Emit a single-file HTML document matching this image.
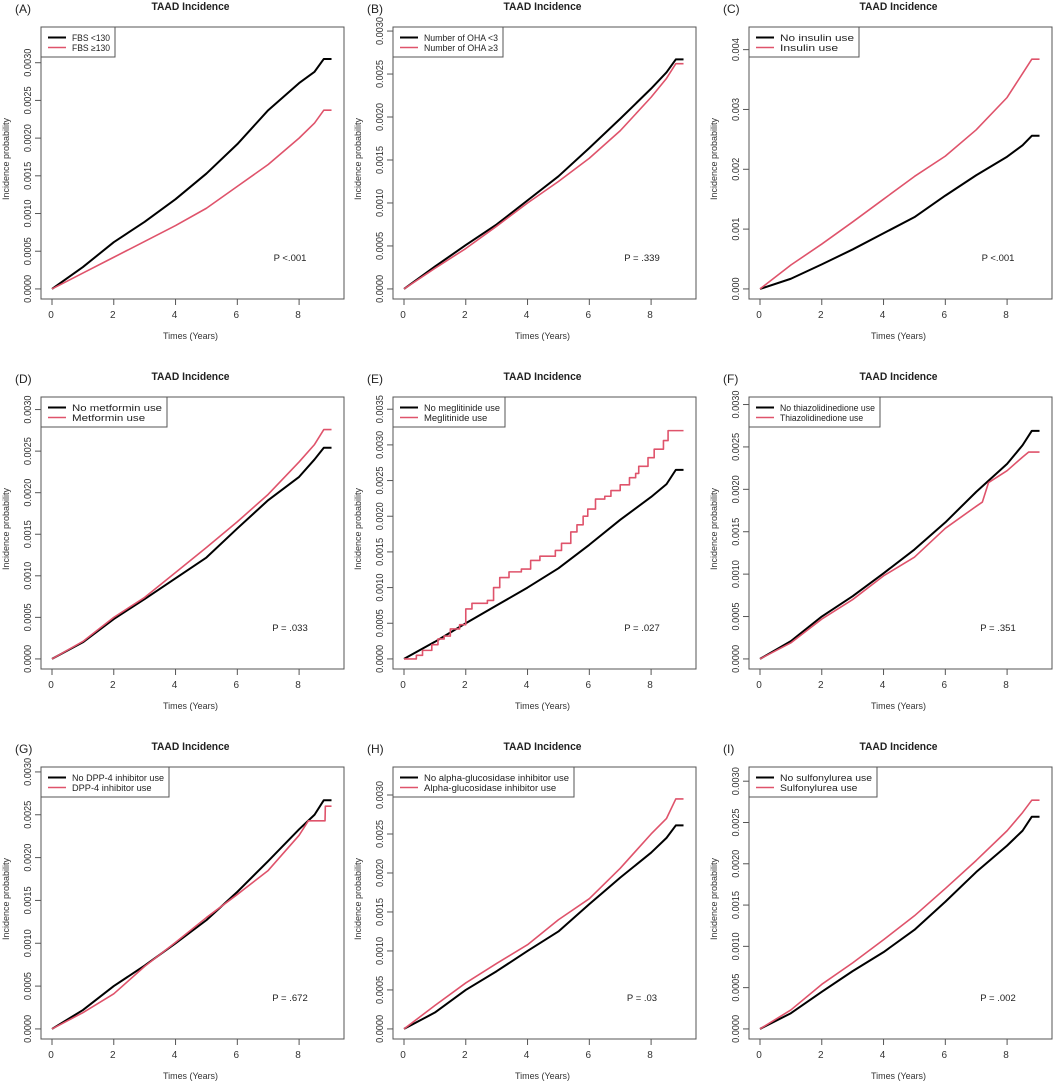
<!DOCTYPE html>
<html><head><meta charset="utf-8"><style>
html,body{margin:0;padding:0;background:#fff;}
svg{display:block;font-family:"Liberation Sans",Arial,sans-serif;}
</style></head><body>
<svg id="fig" width="1055" height="1082" viewBox="0 0 1055 1082" xmlns="http://www.w3.org/2000/svg"></svg>
<script>
// ---- data ----
const T = [0,1,2,3,4,5,6,7,8,8.5,8.8,9.05];
const aBlack = [0,.00029,.00062,.00089,.00119,.00153,.00192,.00237,.00273,.00288,.00305,.00305];
const aRed   = [0,.00021,.00042,.00063,.00084,.00107,.00136,.00165,.00200,.00220,.00237,.00237];
const bBlack = [0,.00026,.00051,.00075,.00103,.00131,.00164,.00198,.00233,.00252,.00267,.00267];
const bRed   = [0,.00024,.00047,.00073,.00100,.00125,.00152,.00184,.00223,.00245,.00262,.00262];
const cBlack = [0,.00017,.00041,.00066,.00093,.00120,.00156,.00190,.00221,.00240,.00256,.00256];
const cRed   = [0,.00040,.00075,.00112,.00150,.00188,.00222,.00266,.00320,.00360,.00384,.00384];
const dBlack = [0,.00020,.00048,.00072,.00097,.00122,.00157,.00191,.00219,.00240,.00254,.00254];
const dRed   = [0,.00021,.00050,.00074,.00104,.00134,.00165,.00198,.00237,.00258,.00276,.00276];
const eBlack = [0,.00024,.00050,.00075,.00100,.00127,.00160,.00195,.00227,.00245,.00265,.00265];
const eRedT  = [0,0.4,0.6,0.9,1.1,1.3,1.5,1.8,2.0,2.2,2.7,2.9,3.1,3.4,3.8,4.1,4.4,4.9,5.1,5.4,5.6,5.8,5.95,6.2,6.5,6.7,7.0,7.3,7.5,7.6,7.9,8.1,8.4,8.55,9.05];
const eRedV  = [0,.00005,.00012,.0002,.00028,.00032,.00042,.00048,.0007,.00078,.00082,.001,.00114,.00122,.00126,.00138,.00144,.00152,.00162,.00178,.00188,.002,.0021,.00224,.00228,.00236,.00244,.00254,.0026,.0027,.00282,.00294,.00306,.0032,.0032];
const fBlack = [0,.00021,.00050,.00074,.00101,.00129,.00161,.00197,.00230,.00252,.00269,.00269];
const fRedT  = [0,1,2,3,4,5,6,7,7.2,7.4,8,8.5,8.7,9.05];
const fRedV  = [0,.00019,.00047,.00070,.00098,.00120,.00154,.00180,.00185,.00208,.00222,.00238,.00244,.00244];
const gBlack = [0,.00022,.00050,.00074,.00100,.00127,.00160,.00196,.00233,.00250,.00267,.00267];
const gRedT  = [0,1,2,3,4,5,6,7,8,8.3,8.84,8.85,9.05];
const gRedV  = [0,.00019,.00041,.00073,.00101,.00130,.00157,.00185,.00226,.00243,.00243,.00260,.00260];
const hBlack = [0,.00021,.00050,.00074,.00100,.00125,.00160,.00194,.00226,.00245,.00261,.00261];
const hRed   = [0,.00030,.00059,.00084,.00108,.00140,.00167,.00206,.00250,.00270,.00295,.00295];
const iBlack = [0,.00019,.00045,.00070,.00093,.00120,.00154,.00190,.00222,.00240,.00257,.00257];
const iRed   = [0,.00023,.00054,.00080,.00108,.00137,.00170,.00204,.00240,.00262,.00277,.00277];
const xTicks = [0,2,4,6,8];
const yMaxes = [0.00334,0.00293,0.00421,0.00303,0.00353,0.00297,0.00294,0.00323,0.00305];

const panels = [
 {id:'A',col:0,row:0,yst:.0005,dec:4,yTop:.0030,leg:['FBS <130','FBS \u2265130'],lw:74,p:'P <.001',bT:T,bV:aBlack,rT:T,rV:aRed},
 {id:'B',col:1,row:0,yst:.0005,dec:4,yTop:.0030,leg:['Number of OHA <3','Number of OHA \u22653'],lw:110,p:'P = .339',bT:T,bV:bBlack,rT:T,rV:bRed},
 {id:'C',col:2,row:0,yst:.001,dec:3,yTop:.004,leg:['No insulin use','Insulin use'],lw:110,p:'P <.001',bT:T,bV:cBlack,rT:T,rV:cRed},
 {id:'D',col:0,row:1,yst:.0005,dec:4,yTop:.0030,leg:['No metformin use','Metformin use'],lw:126,p:'P = .033',bT:T,bV:dBlack,rT:T,rV:dRed},
 {id:'E',col:1,row:1,yst:.0005,dec:4,yTop:.0035,leg:['No meglitinide use','Meglitinide use'],lw:112,p:'P = .027',bT:T,bV:eBlack,rT:eRedT,rV:eRedV,step:true},
 {id:'F',col:2,row:1,yst:.0005,dec:4,yTop:.0030,leg:['No thiazolidinedione use','Thiazolidinedione use'],lw:131,p:'P = .351',bT:T,bV:fBlack,rT:fRedT,rV:fRedV},
 {id:'G',col:0,row:2,yst:.0005,dec:4,yTop:.0030,leg:['No DPP-4 inhibitor use','DPP-4 inhibitor use'],lw:128,p:'P = .672',bT:T,bV:gBlack,rT:gRedT,rV:gRedV},
 {id:'H',col:1,row:2,yst:.0005,dec:4,yTop:.0030,leg:['No alpha-glucosidase inhibitor use','Alpha-glucosidase inhibitor use'],lw:181,p:'P = .03',bT:T,bV:hBlack,rT:T,rV:hRed},
 {id:'I',col:2,row:2,yst:.0005,dec:4,yTop:.0030,leg:['No sulfonylurea use','Sulfonylurea use'],lw:128,p:'P = .002',bT:T,bV:iBlack,rT:T,rV:iRed}
];
const colLeft=[41,393,749], rowTop=[27,397,767], W=303, H=272;
const RED='#DF536B';
const NS='http://www.w3.org/2000/svg';
const svg=document.getElementById('fig');
function mk(tag,attrs,parent,text){const e=document.createElementNS(NS,tag);for(const k in attrs)e.setAttribute(k,attrs[k]);if(text!==undefined)e.textContent=text;(parent||svg).appendChild(e);return e;}

panels.forEach((p,idx)=>{
  const L=colLeft[p.col], Tp=rowTop[p.row], B=Tp+H, ymax=yMaxes[idx];
  const xs=t=>L+(t+0.356)*(W/9.81);
  const ys=v=>B-(v+0.04*ymax)/(1.08*ymax)*H;
  const g=mk('g',{});
  
  
  const lab=mk('text',{x:L-26,y:Tp-14,'font-size':12,fill:'#222'},g,'('+p.id+')');
  
  
  const ti=mk('text',{x:L+W/2-2,y:Tp-17,'font-size':11,'font-weight':'bold','text-anchor':'middle',fill:'#222',textLength:78,lengthAdjust:'spacingAndGlyphs'},g,'TAAD Incidence');
  
  
  const box=mk('rect',{x:L,y:Tp,width:W,height:H,fill:'none',stroke:'#555','stroke-width':1},g);
  
  
  // x axis
  const xa=mk('g',{},g);
  
  
  mk('line',{x1:xs(xTicks[0]),x2:xs(xTicks[xTicks.length-1]),y1:B,y2:B,stroke:'#555'},xa);
  xTicks.forEach(t=>{mk('line',{x1:xs(t),x2:xs(t),y1:B,y2:B+6,stroke:'#555'},xa);
    const tl=mk('text',{x:xs(t)-1,y:B+19,'font-size':10,'text-anchor':'middle',fill:'#333'},xa,String(t));
    
    });
  const xt=mk('text',{x:L+W/2-2,y:B+40,'font-size':9.5,'text-anchor':'middle',fill:'#333',textLength:55,lengthAdjust:'spacingAndGlyphs'},g,'Times (Years)');
  
  
  // y axis
  const ya=mk('g',{},g);
  
  
  const n=Math.round(p.yTop/p.yst);
  mk('line',{x1:L,x2:L,y1:ys(0),y2:ys(p.yTop),stroke:'#555'},ya);
  for(let i=0;i<=n;i++){const v=i*p.yst,y=ys(v);
    mk('line',{x1:L-6,x2:L,y1:y,y2:y,stroke:'#555'},ya);
    const tl=mk('text',{x:0,y:0,'font-size':10,'text-anchor':'middle',fill:'#333',textLength:p.dec===4?28:23,lengthAdjust:'spacingAndGlyphs',transform:`translate(${L-10},${y}) rotate(-90)`},ya,v.toFixed(p.dec));
    
    }
  const yt=mk('text',{x:0,y:0,'font-size':9,'text-anchor':'middle',fill:'#333',textLength:82,lengthAdjust:'spacingAndGlyphs',transform:`translate(${L-32},${Tp+H/2-4}) rotate(-90)`},g,'Incidence probability');
  
  
  // series
  function path(ts,vs,step){let d='';ts.forEach((t,i)=>{if(i===0)d='M'+xs(t)+','+ys(vs[i]);else if(step)d+=' H'+xs(t)+' V'+ys(vs[i]);else d+=' L'+xs(t)+','+ys(vs[i]);});return d;}
  const sb=mk('path',{d:path(p.bT,p.bV,false),fill:'none',stroke:'#000','stroke-width':2,'stroke-linejoin':'round'},g);
  
  
  const sr=mk('path',{d:path(p.rT,p.rV,!!p.step),fill:'none',stroke:RED,'stroke-width':1.6,'stroke-linejoin':'round'},g);
  
  
  // legend
  const lg=mk('g',{},g);
  
  
  mk('rect',{x:L,y:Tp,width:p.lw,height:30,fill:'#fff',stroke:'#555'},lg);
  [['#000',2],[RED,1.6]].forEach((s,i)=>{const y=Tp+10.5+i*10;
    mk('line',{x1:L+7,x2:L+25,y1:y,y2:y,stroke:s[0],'stroke-width':s[1]},lg);
    const le=mk('text',{x:L+31,y:y+3.5,'font-size':9,fill:'#222',textLength:(p.lw-36)*(i===0?1:p.leg[1].length/p.leg[0].length),lengthAdjust:'spacingAndGlyphs'},lg,p.leg[i]);
    
    });
  const pv=mk('text',{x:L+249,y:Tp+234,'font-size':9.5,'text-anchor':'middle',fill:'#222'},g,p.p);
  
  
});
</script>
</body></html>
